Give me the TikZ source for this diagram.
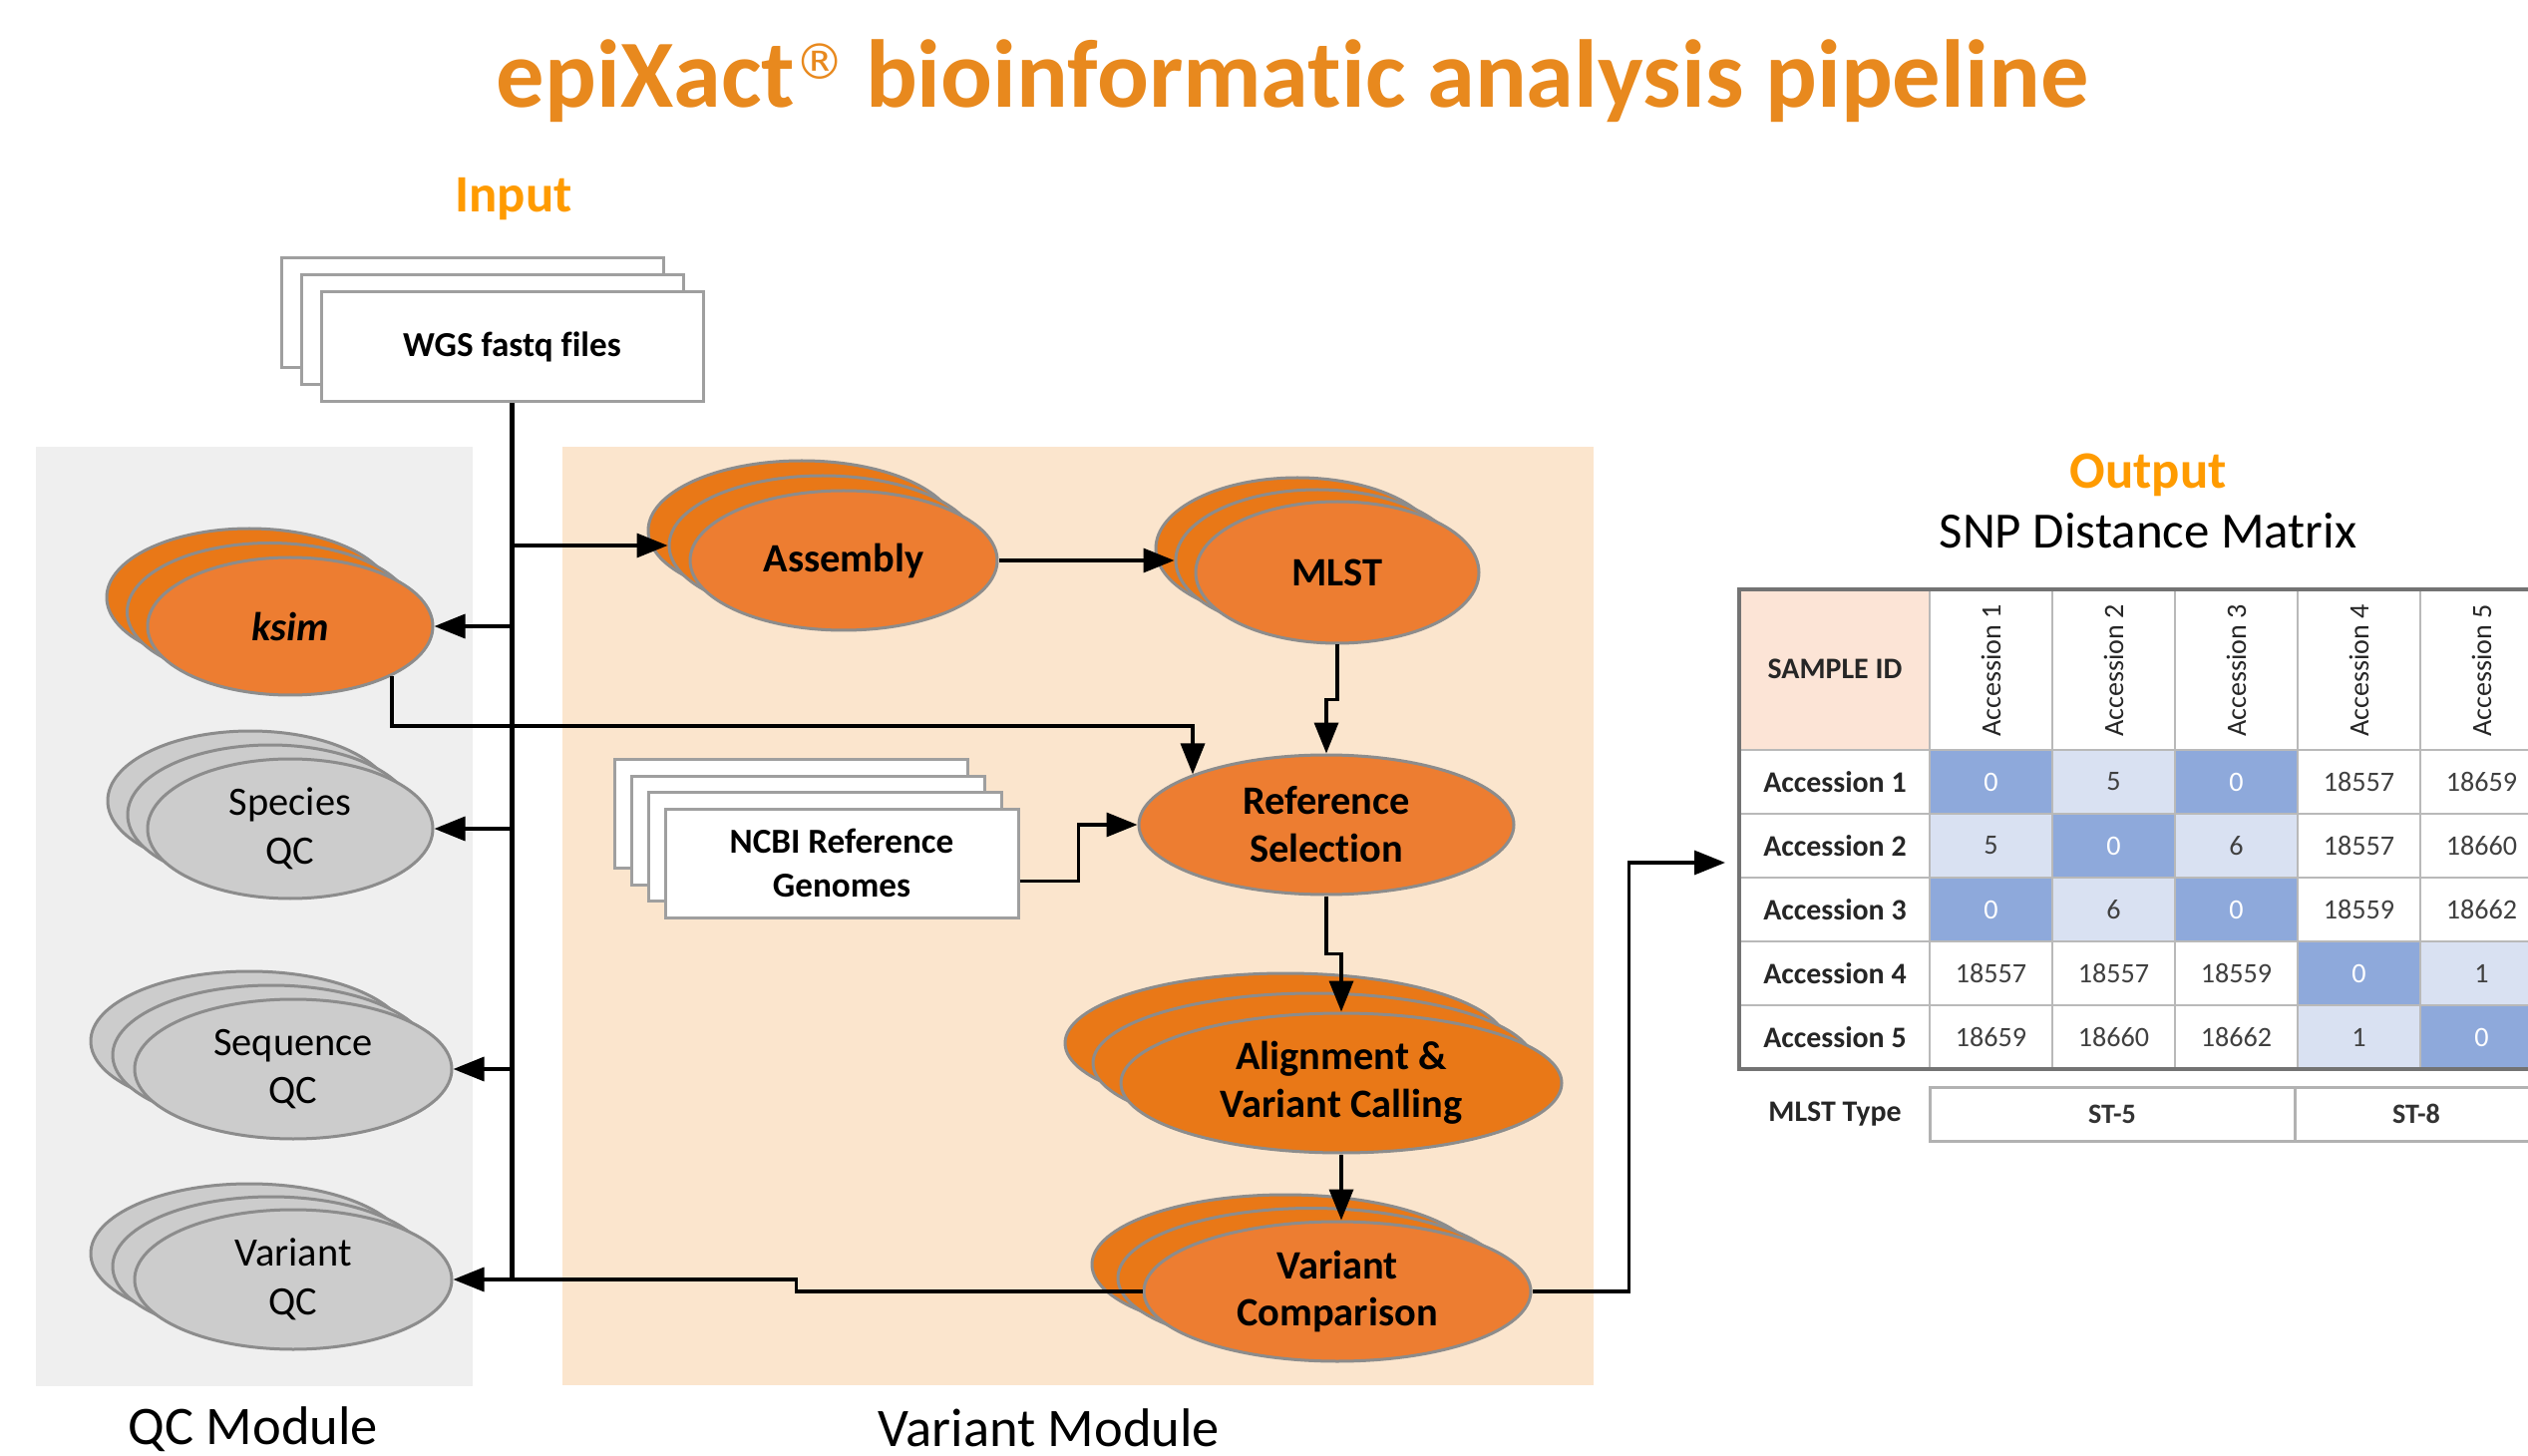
\documentclass[tikz,border=0pt]{standalone}
\usepackage{fontspec}
\setmainfont{Carlito}[Ligatures=NoCommon]
\newfontfamily\regfont{DejaVu Sans}
\usetikzlibrary{arrows.meta,shapes.geometric,calc}

\definecolor{titleorange}{HTML}{E8891E}
\definecolor{labelorange}{HTML}{FF9B00}
\definecolor{qcbg}{HTML}{EFEFEF}
\definecolor{varbg}{HTML}{FBE5CD}
\definecolor{orfront}{HTML}{ED7D31}
\definecolor{orback}{HTML}{E97817}
\definecolor{qcgray}{HTML}{CCCCCC}
\definecolor{rimgray}{HTML}{8C8C8C}
\definecolor{peach}{HTML}{FCE4D6}
\definecolor{filld}{HTML}{8EA9DB}
\definecolor{filll}{HTML}{D9E1F2}
\definecolor{fillw}{HTML}{FFFFFF}
\definecolor{txtd}{HTML}{FFFFFF}
\definecolor{txtl}{HTML}{404040}
\definecolor{txtw}{HTML}{404040}

\tikzset{
  oval/.style={ellipse, draw=rimgray, line width=0.3mm, inner sep=0pt, align=center},
  orangeoval/.style={oval, fill=orfront, font=\fontsize{11.5}{13.6}\selectfont\bfseries},
  orangeback/.style={oval, fill=orback},
  grayoval/.style={oval, fill=qcgray, font=\fontsize{11.5}{13.8}\selectfont},
  filebox/.style={rectangle, draw=gray!75, fill=white, line width=0.3mm, inner sep=0pt,
    align=center, font=\fontsize{10}{12.5}\selectfont\bfseries},
  conn/.style={line width=0.35mm, -{Triangle[length=3.1mm,width=2.4mm]}},
  headlab/.style={text=labelorange, font=\fontsize{15}{18}\selectfont\bfseries, anchor=base},
  modlab/.style={font=\fontsize{15.5}{18}\selectfont, anchor=base},
  gridline/.style={draw=gray!55, line width=0.25mm},
  tableframe/.style={draw=gray!90!black, line width=0.4mm},
  rowhead/.style={font=\fontsize{8.5}{10}\selectfont\bfseries, text=black!85},
  colhead/.style={font=\fontsize{8}{10}\selectfont, text=black!85, inner sep=0.5pt},
  cell/.style={font=\fontsize{8}{10}\selectfont},
  stcell/.style={draw=gray!60, line width=0.3mm, minimum height=5.4mm,
    font=\fontsize{8}{10}\selectfont\bfseries, text=black!80}
}

\begin{document}
\begin{tikzpicture}[x=0.1mm,y=-0.1mm]
\useasboundingbox (0,0) rectangle (2535,1460);
% Modules
\fill[qcbg] (36,448) rectangle (474,1390);
\fill[varbg] (564,448) rectangle (1598,1389);

% Titles
\node[font=\fontsize{27.5}{32}\selectfont\bfseries, text=titleorange, anchor=base] (title) at (1296,108)
  {epiXact\raisebox{8pt}{\regfont\mdseries\fontsize{14}{16}\selectfont ®} bioinformatic analysis pipeline};
\node[headlab] (input) at (515,213) {Input};
\node[headlab] (output) at (2154,490) {Output};
\node[font=\fontsize{14.5}{17}\selectfont, anchor=base] (snp) at (2154,550) {SNP Distance Matrix};
\node[modlab] (qcmod) at (254,1448) {QC Module};
\node[modlab] (varmod) at (1052,1450) {Variant Module};

% Input files
\foreach \i in {2,1}
  \node[filebox, minimum width=38.3mm, minimum height=11mm] (wgs-\i) at ($(513.5,348)+(-20*\i,-17*\i)$) {};
\node[filebox, minimum width=38.3mm, minimum height=11mm] (wgs) at (513.5,348) {WGS fastq files};

% QC module
\foreach \i in {2,1}
  \node[orangeback, minimum width=28.6mm, minimum height=13.8mm] (ksim-\i) at ($(291,628)+(-20.5*\i,-14.5*\i)$) {};
\node[orangeoval, minimum width=28.6mm, minimum height=13.8mm] (ksim) at (291,628) {\itshape ksim};
\foreach \i in {2,1}
  \node[grayoval, minimum width=28.6mm, minimum height=14mm] (sqc-\i) at ($(291,831)+(-20*\i,-14*\i)$) {};
\node[grayoval, minimum width=28.6mm, minimum height=14mm] (sqc) at (291,831) {Species\\QC};
\foreach \i in {2,1}
  \node[grayoval, minimum width=31.8mm, minimum height=14mm] (seqqc-\i) at ($(294,1072)+(-22*\i,-14*\i)$) {};
\node[grayoval, minimum width=31.8mm, minimum height=14mm] (seqqc) at (294,1072) {Sequence\\QC};
\foreach \i in {2,1}
  \node[grayoval, minimum width=31.8mm, minimum height=14mm] (vqc-\i) at ($(294,1283)+(-22*\i,-13*\i)$) {};
\node[grayoval, minimum width=31.8mm, minimum height=14mm] (vqc) at (294,1283) {Variant\\QC};

% Variant module
\foreach \i in {2,1}
  \node[orangeback, minimum width=30.8mm, minimum height=14mm] (asm-\i) at ($(846,562)+(-21*\i,-15*\i)$) {};
\node[orangeoval, minimum width=30.8mm, minimum height=14mm] (asm) at (846,562) {Assembly};
\foreach \i in {2,1}
  \node[orangeback, minimum width=28.4mm, minimum height=14.2mm] (mlst-\i) at ($(1341,574)+(-20*\i,-12*\i)$) {};
\node[orangeoval, minimum width=28.4mm, minimum height=14.2mm] (mlst) at (1341,574) {MLST};
\foreach \i in {3,2,1}
  \node[filebox, minimum width=35.4mm, minimum height=10.9mm] (ncbi-\i) at ($(844,865.5)+(-17*\i,-16.5*\i)$) {};
\node[filebox, minimum width=35.4mm, minimum height=10.9mm] (ncbi) at (844,865.5) {NCBI Reference\\Genomes};
\node[orangeoval, minimum width=37.6mm, minimum height=14mm] (ref) at (1330,827) {Reference\\Selection};
\foreach \i in {2,1}
  \node[orangeback, minimum width=44.2mm, minimum height=14mm] (aln-\i) at ($(1345,1086)+(-28*\i,-20*\i)$) {};
\node[orangeoval, fill=orback, minimum width=44.2mm, minimum height=14mm] (aln) at (1345,1086) {Alignment \&\\Variant Calling};
\foreach \i in {2,1}
  \node[orangeback, minimum width=38.8mm, minimum height=14mm] (vcmp-\i) at ($(1341,1295)+(-26*\i,-13.5*\i)$) {};
\node[orangeoval, minimum width=38.8mm, minimum height=14mm] (vcmp) at (1341,1295) {Variant\\Comparison};

% SNP distance matrix
\fill[peach] (1744,591) rectangle (1935,752);
\node[rowhead] (sid) at (1840,671) {SAMPLE ID};
\foreach \row [count=\r] in {
  {d/0,l/5,d/0,w/18557,w/18659},
  {l/5,d/0,l/6,w/18557,w/18660},
  {d/0,l/6,d/0,w/18559,w/18662},
  {w/18557,w/18557,w/18559,d/0,l/1},
  {w/18659,w/18660,w/18662,l/1,d/0}}{
  \node[rowhead] (r\r) at (1840,720+64*\r) {Accession \r};
  \foreach \f/\v [count=\c] in \row {
    \fill[fill\f] (1812+123*\c,688+64*\r) rectangle +(123,64);
    \node[cell, text=txt\f] (c\r\c) at (1873.5+123*\c,720+64*\r) {\v};
  }
}
\foreach \c in {1,...,5}
  \node[colhead, rotate=90, anchor=west] (h\c) at (1873.5+123*\c,741) {Accession \c};
\foreach \k in {0,...,4}
  \draw[gridline] (1935+123*\k,591) -- (1935+123*\k,1072);
\foreach \k in {0,...,4}
  \draw[gridline] (1744,752+64*\k) -- (2560,752+64*\k);
\draw[tableframe] (2560,591) -- (1744,591) -- (1744,1072) -- (2560,1072);
\node[rowhead] (mlsttype) at (1840,1117) {MLST Type};
\node[stcell, minimum width=36.6mm] (st5) at (2118,1117) {ST-5};
\node[stcell, minimum width=24.4mm] (st8) at (2423,1117) {ST-8};
\coordinate (tblin) at (1730,865);

% Connectors
\draw[line width=0.45mm] (wgs.south) -- (wgs.south |- vqc.east);
\draw[conn] (wgs.south |- asm-1.west) -- (asm-1.west);
\draw[conn] (wgs.south |- ksim.east) -- (ksim.east);
\draw[conn] (wgs.south |- sqc.east) -- (sqc.east);
\draw[conn] (wgs.south |- seqqc.east) -- (seqqc.east);
\draw[conn] (asm.east) -- (mlst-1.west);
\draw[conn] (ksim.south east) -- ++(0,50) -| (ref.north west);
\draw[conn] (mlst.south) -- ++(0,55) -| (ref.north);
\draw[conn] ([yshift=-1.8mm]ncbi.east) -- ++(59,0) |- (ref.west);
\draw[conn] (ref.south) -- ++(0,58) -| (aln.north);
\draw[conn] (aln.south) -- (aln.south |- vcmp.north);
\draw[conn] (vcmp.east) -- ++(97,0) |- (tblin);
\draw[conn] (vcmp.west) -- ++(-347,0) |- (vqc.east);
\end{tikzpicture}
\end{document}
